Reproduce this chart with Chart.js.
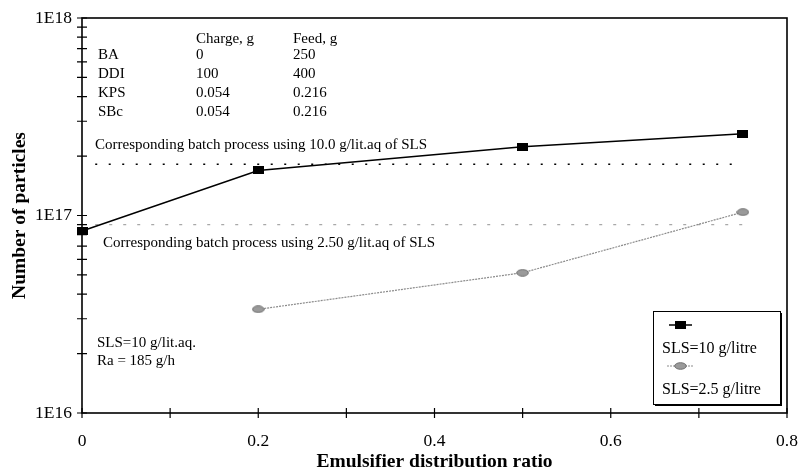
<!DOCTYPE html>
<html lang="en">
  <head>
    <meta charset="UTF-8" />
    <style>
      html,
      body {
        margin: 0;
        padding: 0;
        background-color: #fff;
      }
      #wrap {
        width: 798px;
        height: 472px;
      }
    </style>
    <script src="https://cdn.jsdelivr.net/npm/chart.js"></script>
    <title>Number of particles</title>
  </head>
  <body>
    <div id="wrap"><canvas id="chart" width="798" height="472"></canvas></div>

    <script>
      // values
      var ratio10 = [0, 0.2, 0.5, 0.75];
      var particles10 = [8.35e16, 1.69e17, 2.23e17, 2.59e17];
      var ratio25 = [0.2, 0.5, 0.75];
      var particles25 = [3.35e16, 5.13e16, 1.04e17];
      var batchX = [0.015, 0.75];
      var batch10 = [1.82e17, 1.82e17];
      var batch25 = [9.0e16, 9.0e16];

      var xTicks = [0, 0.1, 0.2, 0.3, 0.4, 0.5, 0.6, 0.7, 0.8];
      var xTickLabels = ["0", "", "0.2", "", "0.4", "", "0.6", "", "0.8"];
      var yDecades = [1e16, 1e17, 1e18];
      var yDecadeLabels = ["1E16", "1E17", "1E18"];

      var tableHead = ["Charge, g", "Feed, g"];
      var tableRows = [
        ["BA", "0", "250"],
        ["DDI", "100", "400"],
        ["KPS", "0.054", "0.216"],
        ["SBc", "0.054", "0.216"],
      ];
      var legendLabels = ["SLS=10 g/litre", "SLS=2.5 g/litre"];

      var SERIF = "'Liberation Serif', 'Times New Roman', serif";

      function pts(xs, ys) {
        return xs.map(function (x, i) {
          return { x: x, y: ys[i] };
        });
      }

      // marker images
      var squareMark = document.createElement("canvas");
      squareMark.width = 11;
      squareMark.height = 8;
      var sc = squareMark.getContext("2d");
      sc.fillStyle = "#000";
      sc.fillRect(0, 0, 11, 8);

      var ovalMark = document.createElement("canvas");
      ovalMark.width = 13;
      ovalMark.height = 8;
      var oc = ovalMark.getContext("2d");
      oc.fillStyle = "#9a9a9a";
      oc.strokeStyle = "#6e6e6e";
      oc.lineWidth = 1;
      oc.beginPath();
      oc.ellipse(6.5, 4, 5.8, 3.3, 0, 0, Math.PI * 2);
      oc.fill();
      oc.stroke();

      var decor = {
        id: "decor",
        afterDraw: function (chart) {
          var ctx = chart.ctx;
          var a = chart.chartArea;
          var xs = chart.scales.x;
          var ys = chart.scales.y;
          ctx.save();

          // frame
          ctx.strokeStyle = "#000";
          ctx.lineWidth = 1.6;
          ctx.strokeRect(a.left, a.top, a.right - a.left, a.bottom - a.top);

          // tick marks crossing the axes
          ctx.lineWidth = 1.2;
          ctx.beginPath();
          xs.ticks.forEach(function (t) {
            var px = xs.getPixelForValue(t.value);
            ctx.moveTo(px, a.bottom - 5);
            ctx.lineTo(px, a.bottom + 5);
          });
          ys.ticks.forEach(function (t) {
            var py = ys.getPixelForValue(t.value);
            ctx.moveTo(a.left - 5, py);
            ctx.lineTo(a.left + 5, py);
          });
          ctx.stroke();

          // recipe table and notes
          ctx.fillStyle = "#000";
          ctx.font = "15px " + SERIF;
          ctx.textBaseline = "middle";
          ctx.textAlign = "left";
          var c0 = a.left + 16,
            c1 = a.left + 114,
            c2 = a.left + 211;
          ctx.fillText(tableHead[0], c1, a.top + 21);
          ctx.fillText(tableHead[1], c2, a.top + 21);
          tableRows.forEach(function (r, i) {
            var y = a.top + 37.5 + i * 18.7;
            ctx.fillText(r[0], c0, y);
            ctx.fillText(r[1], c1, y);
            ctx.fillText(r[2], c2, y);
          });
          ctx.fillText(
            "Corresponding batch process using 10.0 g/lit.aq of SLS",
            a.left + 13,
            a.top + 127
          );
          ctx.fillText(
            "Corresponding batch process using 2.50 g/lit.aq of SLS",
            a.left + 21,
            a.top + 225
          );
          ctx.fillText("SLS=10 g/lit.aq.", a.left + 15, a.top + 325);
          ctx.fillText("Ra = 185 g/h", a.left + 15, a.top + 343);

          // legend box with drop shadow
          var lx = 653,
            ly = 311,
            lw = 127,
            lh = 93;
          ctx.fillStyle = "#000";
          ctx.fillRect(lx + 2, ly + 2, lw, lh);
          ctx.fillStyle = "#fff";
          ctx.fillRect(lx, ly, lw, lh);
          ctx.strokeStyle = "#000";
          ctx.lineWidth = 1;
          ctx.strokeRect(lx + 0.5, ly + 0.5, lw, lh);

          var d0 = chart.data.datasets[0];
          var d1 = chart.data.datasets[1];
          ctx.strokeStyle = d0.borderColor;
          ctx.lineWidth = d0.borderWidth;
          ctx.beginPath();
          ctx.moveTo(669, 325);
          ctx.lineTo(692, 325);
          ctx.stroke();
          ctx.drawImage(squareMark, 675, 321);

          ctx.strokeStyle = d1.borderColor;
          ctx.lineWidth = d1.borderWidth;
          ctx.setLineDash(d1.borderDash);
          ctx.beginPath();
          ctx.moveTo(667, 366);
          ctx.lineTo(693, 366);
          ctx.stroke();
          ctx.setLineDash([]);
          ctx.drawImage(ovalMark, 674, 362);

          ctx.fillStyle = "#000";
          ctx.font = "16px " + SERIF;
          ctx.fillText(legendLabels[0], 662, 349);
          ctx.fillText(legendLabels[1], 662, 390);
          ctx.restore();
        },
      };

      var ctx = document.getElementById("chart").getContext("2d");
      var myChart = new Chart(ctx, {
        type: "scatter",
        data: {
          datasets: [
            {
              label: legendLabels[0],
              data: pts(ratio10, particles10),
              showLine: true,
              borderColor: "#000",
              borderWidth: 1.5,
              pointStyle: squareMark,
              clip: false,
            },
            {
              label: legendLabels[1],
              data: pts(ratio25, particles25),
              showLine: true,
              borderColor: "#8c8c8c",
              borderWidth: 1.2,
              borderDash: [2, 1],
              pointStyle: ovalMark,
              clip: false,
            },
            {
              label: "batch 10.0",
              data: pts(batchX, batch10),
              showLine: true,
              borderColor: "#000",
              borderWidth: 1.5,
              borderDash: [2, 11.5],
              pointRadius: 0,
            },
            {
              label: "batch 2.50",
              data: pts(batchX, batch25),
              showLine: true,
              borderColor: "#a8a8a8",
              borderWidth: 1.3,
              borderDash: [3, 11],
              pointRadius: 0,
            },
          ],
        },
        options: {
          responsive: false,
          animation: false,
          events: [],
          layout: { padding: { top: 18, right: 11, left: 0, bottom: 0 } },
          plugins: {
            legend: { display: false },
            tooltip: { enabled: false },
          },
          scales: {
            x: {
              type: "linear",
              min: 0,
              max: 0.8,
              grid: { display: false, drawTicks: false },
              border: { display: false },
              afterBuildTicks: function (s) {
                s.ticks = xTicks.map(function (v) {
                  return { value: v };
                });
              },
              afterFit: function (s) {
                s.height = 59;
                s.paddingLeft = 0;
                s.paddingRight = 0;
              },
              ticks: {
                autoSkip: false,
                maxRotation: 0,
                padding: 18,
                color: "#000",
                font: { family: SERIF, size: 17.5 },
                callback: function (v, i) {
                  return xTickLabels[i];
                },
              },
              title: {
                display: true,
                text: "Emulsifier distribution ratio",
                color: "#000",
                padding: 0,
                font: { family: SERIF, size: 19.5, weight: "bold", lineHeight: 1 },
              },
            },
            y: {
              type: "logarithmic",
              min: 1e16,
              max: 1e18,
              grid: { display: false, drawTicks: false },
              border: { display: false },
              afterBuildTicks: function (s) {
                var t = [];
                yDecades.forEach(function (d, i) {
                  t.push({ value: d, major: true });
                  if (i < yDecades.length - 1) {
                    for (var m = 2; m <= 9; m++) t.push({ value: m * d });
                  }
                });
                s.ticks = t;
              },
              afterFit: function (s) {
                s.width = 82;
                s.paddingTop = 0;
                s.paddingBottom = 0;
              },
              ticks: {
                autoSkip: false,
                padding: 10,
                color: "#000",
                font: { family: SERIF, size: 17.5 },
                callback: function (v) {
                  var i = yDecades.indexOf(v);
                  return i >= 0 ? yDecadeLabels[i] : "";
                },
              },
              title: {
                display: true,
                text: "Number of particles",
                color: "#000",
                padding: { top: 10, bottom: 0 },
                font: { family: SERIF, size: 19.5, weight: "bold", lineHeight: 1 },
              },
            },
          },
        },
        plugins: [decor],
      });
    </script>
  </body>
</html>
